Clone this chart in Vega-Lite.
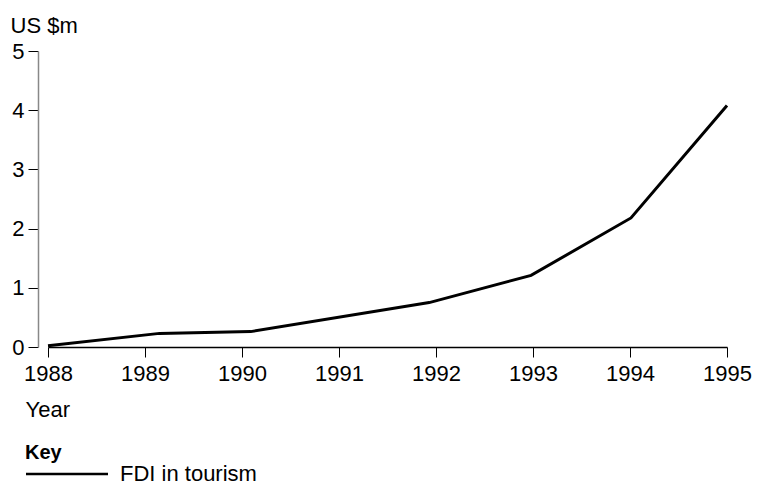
{
  "$schema": "https://vega.github.io/schema/vega-lite/v6.json",
  "width": 679,
  "height": 296,
  "autosize": "none",
  "padding": {"left": 48, "top": 51, "right": 30, "bottom": 139},
  "background": "white",
  "config": {"view": {"stroke": null}, "font": "Liberation Sans"},
  "data": {"values": [
    {"year": 1988.0, "value": 0.02, "series": "FDI in tourism"},
    {"year": 1989.15, "value": 0.23, "series": "FDI in tourism"},
    {"year": 1990.09, "value": 0.26, "series": "FDI in tourism"},
    {"year": 1991.93, "value": 0.75, "series": "FDI in tourism"},
    {"year": 1992.98, "value": 1.21, "series": "FDI in tourism"},
    {"year": 1994.01, "value": 2.18, "series": "FDI in tourism"},
    {"year": 1995.0, "value": 4.08, "series": "FDI in tourism"}
  ]},
  "mark": {"type": "line", "strokeWidth": 3},
  "encoding": {
    "x": {
      "field": "year", "type": "quantitative",
      "scale": {"domain": [1988, 1995], "nice": false, "zero": false},
      "axis": {
        "values": [1988, 1989, 1990, 1991, 1992, 1993, 1994, 1995],
        "format": "d", "grid": false, "labelFlush": false,
        "domainColor": "black", "domainWidth": 1.5,
        "tickColor": "black", "tickSize": 10, "tickWidth": 1,
        "labelFontSize": 22, "labelColor": "black", "labelPadding": 6,
        "title": "Year", "titleFontSize": 22, "titleFontWeight": "normal", "titleColor": "black",
        "titleX": -23, "titleY": 69, "titleAlign": "left", "titleBaseline": "alphabetic"
      }
    },
    "y": {
      "field": "value", "type": "quantitative",
      "scale": {"domain": [0, 5], "nice": false},
      "axis": {
        "values": [0, 1, 2, 3, 4, 5],
        "offset": 10, "grid": false,
        "domainColor": "#888888", "domainWidth": 1.5,
        "tickColor": "black", "tickSize": 10, "tickWidth": 1,
        "labelFontSize": 22, "labelColor": "black", "labelPadding": 4,
        "title": "US $m", "titleFontSize": 22, "titleFontWeight": "normal", "titleColor": "black",
        "titleAngle": 0, "titleX": -28, "titleY": -19, "titleAlign": "left", "titleBaseline": "alphabetic"
      }
    },
    "stroke": {
      "field": "series", "type": "nominal",
      "scale": {"range": ["black"]},
      "legend": {
        "title": "Key", "orient": "none", "legendX": -23, "legendY": 392,
        "titleFontSize": 20, "titleFontWeight": "bold", "titleColor": "black",
        "labelFontSize": 22, "labelColor": "black", "labelOffset": 73,
        "symbolType": "M-5,0H36", "symbolSize": 16, "symbolStrokeWidth": 2.5,
        "symbolStrokeColor": "black", "symbolOffset": 0, "padding": 0, "titlePadding": 0
      }
    }
  }
}
